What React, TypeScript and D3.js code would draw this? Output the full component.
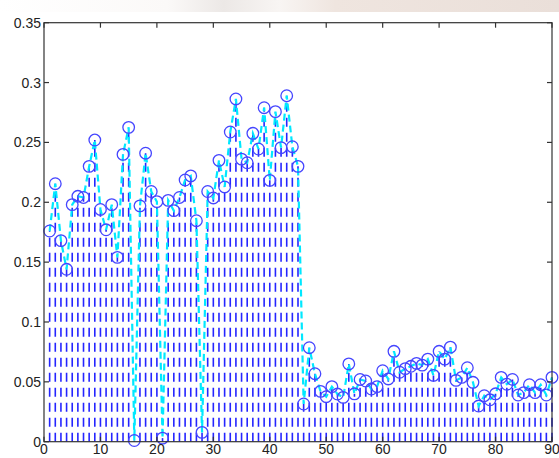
import React from "react";
import * as d3 from "d3";

const values: number[] = [
  0.176, 0.2155, 0.168, 0.144, 0.198, 0.205, 0.204, 0.23, 0.252, 0.194,
  0.177, 0.198, 0.154, 0.24, 0.2626, 0.001, 0.197, 0.241, 0.209, 0.2005,
  0.003, 0.2016, 0.193, 0.204, 0.2186, 0.222, 0.1846, 0.0078, 0.209, 0.2036,
  0.235, 0.2128, 0.2587, 0.2863, 0.236, 0.233, 0.2576, 0.2445, 0.279, 0.2183,
  0.2757, 0.2456, 0.289, 0.2464, 0.23, 0.0315, 0.0785, 0.0568, 0.042, 0.0376,
  0.046, 0.0398, 0.037, 0.065, 0.04, 0.052, 0.0507, 0.044, 0.046, 0.0593,
  0.0524, 0.0755, 0.058, 0.061, 0.063, 0.0654, 0.064, 0.069, 0.0554, 0.0755,
  0.069, 0.079, 0.0512, 0.0537, 0.0618, 0.0496, 0.0298, 0.0384, 0.035, 0.04,
  0.0537, 0.048, 0.052, 0.039, 0.041, 0.0476, 0.041, 0.0476, 0.039, 0.0537,
];
const xTicks: number[] = [0, 10, 20, 30, 40, 50, 60, 70, 80, 90];
const yTicks: number[] = [0, 0.05, 0.1, 0.15, 0.2, 0.25, 0.3, 0.35];
const yTickLabels: string[] = ["0", "0.05", "0.1", "0.15", "0.2", "0.25", "0.3", "0.35"];

const W = 559;
const H = 458;
const L = 44;
const R = 552;
const T = 22.7;
const B = 441.7;

export default function App() {
  const x = d3.scaleLinear().domain([0, 90]).range([L, R]);
  const y = d3.scaleLinear().domain([0, 0.35]).range([B, T]);
  const pts = values.map((v, i) => [i + 1, v] as [number, number]);
  const line = d3
    .line<[number, number]>()
    .x((d) => x(d[0]))
    .y((d) => y(d[1]));
  const tl = 5;
  const font = "'Liberation Sans', Arial, sans-serif";
  return (
    <div style={{ position: "fixed", left: 0, top: 0 }}>
      <svg width={W} height={H} style={{ display: "block", background: "#fff" }}>
        <defs>
          <linearGradient id="band" x1="0" x2="1" y1="0" y2="0">
            <stop offset="0" stopColor="#ffffff" />
            <stop offset="0.3" stopColor="#fbf9f8" />
            <stop offset="0.4" stopColor="#ece8e6" />
            <stop offset="0.5" stopColor="#f8f5f3" />
            <stop offset="0.6" stopColor="#efe5df" />
            <stop offset="1" stopColor="#eadfd9" />
          </linearGradient>
        </defs>
        <rect x={0} y={0} width={W} height={12} fill="url(#band)" />
        <rect x={0} y={12} width={W} height={H - 12} fill="#fff" />
        {/* stems */}
        <g stroke="#2525ff" strokeWidth={1.6} strokeDasharray="9 6">
          {pts.map((d, i) => (
            <line key={i} x1={x(d[0])} x2={x(d[0])} y1={y(0)} y2={y(d[1])} />
          ))}
        </g>
        {/* connecting line */}
        <path
          d={line(pts) || ""}
          fill="none"
          stroke="#00e8ff"
          strokeWidth={2.2}
          strokeDasharray="7 4"
        />
        {/* markers */}
        <g fill="none" stroke="#4545ff" strokeWidth={1.3}>
          {pts.map((d, i) => (
            <circle key={i} cx={x(d[0])} cy={y(d[1])} r={5.8} />
          ))}
        </g>
        {/* axes box */}
        <rect x={L} y={T} width={R - L} height={B - T} fill="none" stroke="#333" strokeWidth={1.2} />
        <g stroke="#333" strokeWidth={1.2}>
          {xTicks.map((t) => (
            <g key={"x" + t}>
              <line x1={x(t)} x2={x(t)} y1={B} y2={B - tl} />
              <line x1={x(t)} x2={x(t)} y1={T} y2={T + tl} />
            </g>
          ))}
          {yTicks.map((t) => (
            <g key={"y" + t}>
              <line x1={L} x2={L + tl} y1={y(t)} y2={y(t)} />
              <line x1={R} x2={R - tl} y1={y(t)} y2={y(t)} />
            </g>
          ))}
        </g>
        <g fontFamily={font} fontSize={14} fill="#222">
          {xTicks.map((t) => (
            <text key={"xl" + t} x={x(t)} y={B + 12.5} textAnchor="middle">
              {String(t)}
            </text>
          ))}
          {yTicks.map((t, i) => (
            <text key={"yl" + t} x={L - 3} y={y(t) + 5} textAnchor="end">
              {yTickLabels[i]}
            </text>
          ))}
        </g>
      </svg>
    </div>
  );
}
